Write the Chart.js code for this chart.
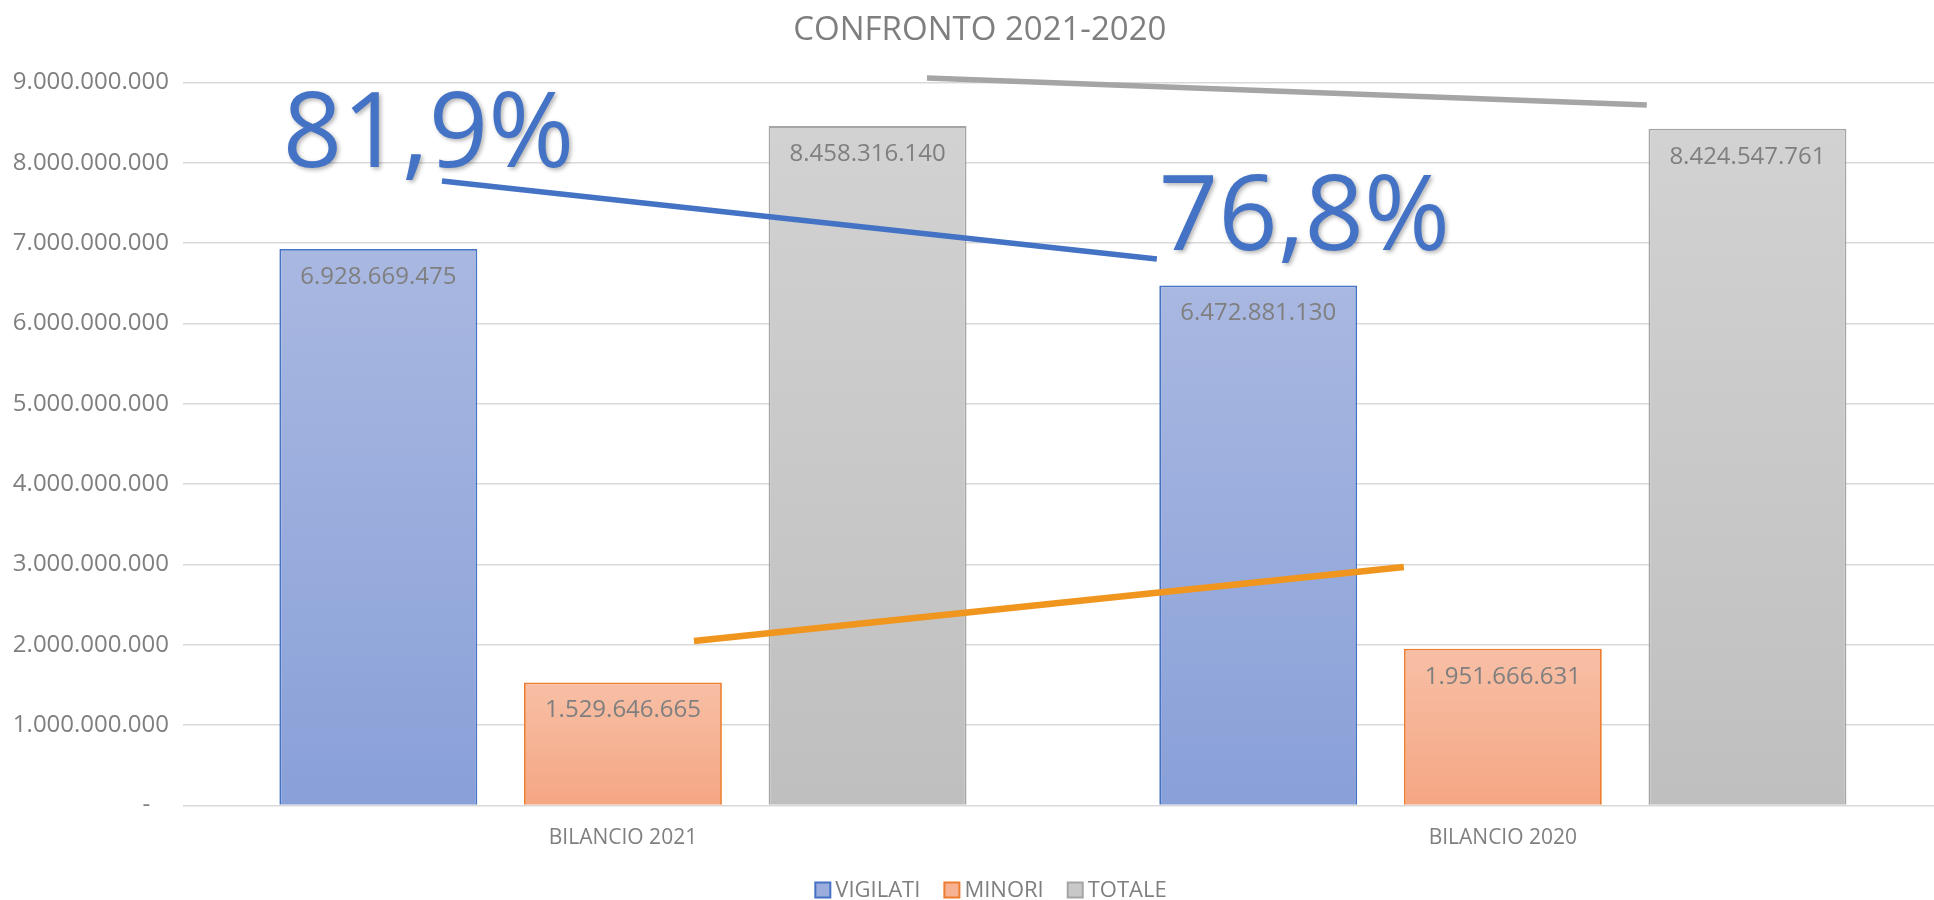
<!DOCTYPE html>
<html>
<head>
<meta charset="utf-8">
<script src="https://cdn.jsdelivr.net/npm/chart.js@4/dist/chart.umd.min.js"></script>
<style>
  html, body { margin: 0; padding: 0; background: #fff; }
  #wrap { width: 1934px; height: 900px; }
</style>
</head>
<body>
<div id="wrap"><canvas id="chart"></canvas></div>
<script>
const Categories = ['BILANCIO 2021', 'BILANCIO 2020'];
const SeriesNames = ['VIGILATI', 'MINORI', 'TOTALE'];
const Vigilati = [6928669475, 6472881130];
const Minori = [1529646665, 1951666631];
const Totale = [8458316140, 8424547761];
const Percentuali = ['81,9%', '76,8%'];
const YTicks = [0, 1e9, 2e9, 3e9, 4e9, 5e9, 6e9, 7e9, 8e9, 9e9];

// the hand drawn trend strokes, in chart units (x = category index)
const TrendVigilati = [{x: -0.2057, y: 7.775e9}, {x: 0.6068, y: 6.804e9}];
const TrendTotale = [{x: 0.3455, y: 9.058e9}, {x: 1.1636, y: 8.72e9}];
const TrendMinori = [{x: 0.0807, y: 2.047e9}, {x: 0.8875, y: 2.969e9}];

const GRAY_TEXT = '#7f7f7f';
const FONT = "'Open Sans', sans-serif";

function fmt(v) {
    if (v === 0) return '-   ';
    return String(Math.round(v)).replace(/\B(?=(\d{3})+(?!\d))/g, '.');
}

// vertical gradient for each single bar, from its top to the zero line
function barFill(top, bottom) {
    return function(ctx) {
        const chart = ctx.chart;
        if (ctx.type !== 'data' || !chart.chartArea || !chart.scales.y) return bottom;
        const y = chart.scales.y;
        const y1 = y.getPixelForValue(ctx.parsed.y);
        const y0 = y.getPixelForValue(0);
        if (!isFinite(y1) || !isFinite(y0) || y0 === y1) return bottom;
        const g = chart.ctx.createLinearGradient(0, y1, 0, y0);
        g.addColorStop(0, top);
        g.addColorStop(1, bottom);
        return g;
    };
}

const toPoints = arr => arr.map((v, i) => ({x: i, y: v}));

const barLabels = {
    id: 'barLabels',
    afterDatasetsDraw(chart) {
        const {ctx} = chart;
        ctx.save();
        ctx.font = '24px ' + FONT;
        ctx.fillStyle = GRAY_TEXT;
        ctx.textAlign = 'center';
        ctx.textBaseline = 'middle';
        chart.data.datasets.forEach((ds, di) => {
            if (ds.type === 'line') return;
            chart.getDatasetMeta(di).data.forEach((bar, i) => {
                ctx.fillText(fmt(ds.data[i].y), bar.x, bar.y + 28);
            });
        });

        // big percentage labels (share of VIGILATI on TOTALE)
        const anchors = [{x: -0.221, y: 7.955e9}, {x: 0.7744, y: 6.92e9}];
        ctx.font = '104px ' + FONT;
        ctx.fillStyle = '#4472c4';
        ctx.textBaseline = 'alphabetic';
        ctx.shadowColor = 'rgba(0,0,0,0.3)';
        ctx.shadowBlur = 4;
        ctx.shadowOffsetX = 2;
        ctx.shadowOffsetY = 2;
        Percentuali.forEach((t, i) => {
            const px = chart.scales.x.getPixelForValue(anchors[i].x);
            const py = chart.scales.y.getPixelForValue(anchors[i].y);
            ctx.fillText(t, px, py);
        });
        ctx.restore();
    }
};

const LegendFill = ['#9aaddd', '#f6b293', '#c8c8c8'];
const LegendStroke = ['#4472c4', '#ed7d31', '#a5a5a5'];

// excel style legend: small square, text right next to it
const bottomLegend = {
    id: 'bottomLegend',
    afterDraw(chart) {
        const {ctx} = chart;
        const box = 15, gap = 5, spacing = 24;
        ctx.save();
        ctx.font = '22px ' + FONT;
        ctx.textBaseline = 'middle';
        ctx.textAlign = 'left';
        const widths = SeriesNames.map(n => box + gap + ctx.measureText(n).width);
        const total = widths.reduce((a, b) => a + b, 0) + spacing * (widths.length - 1);
        let x = chart.width / 2 + 24 - total / 2;
        const y = chart.height - 10;
        SeriesNames.forEach((n, i) => {
            ctx.fillStyle = LegendFill[i];
            ctx.fillRect(x, y - box / 2, box, box);
            ctx.strokeStyle = LegendStroke[i];
            ctx.lineWidth = 2;
            ctx.strokeRect(x, y - box / 2, box, box);
            ctx.fillStyle = GRAY_TEXT;
            ctx.fillText(n, x + box + gap, y + 1);
            x += widths[i] + spacing;
        });
        ctx.restore();
    }
};

new Chart(document.getElementById('chart'), {
    data: {
        datasets: [
            {
                type: 'bar', label: SeriesNames[0], data: toPoints(Vigilati), order: 1,
                backgroundColor: barFill('#a9b8e1', '#89a0d8'), borderColor: '#4472c4', borderWidth: 1.8
            },
            {
                type: 'bar', label: SeriesNames[1], data: toPoints(Minori), order: 1,
                backgroundColor: barFill('#f7bfa6', '#f5a683'), borderColor: '#ed7d31', borderWidth: 1.8
            },
            {
                type: 'bar', label: SeriesNames[2], data: toPoints(Totale), order: 1,
                backgroundColor: barFill('#d2d2d2', '#bfbfbf'), borderColor: '#a5a5a5', borderWidth: 1.8
            },
            {
                type: 'line', label: 'trend vigilati', data: TrendVigilati, order: 0,
                borderColor: '#4472c4', borderWidth: 5.5, pointRadius: 0, clip: false
            },
            {
                type: 'line', label: 'trend totale', data: TrendTotale, order: 0,
                borderColor: '#a5a5a5', borderWidth: 5.5, pointRadius: 0, clip: false
            },
            {
                type: 'line', label: 'trend minori', data: TrendMinori, order: 0,
                borderColor: '#f0951e', borderWidth: 6.5, pointRadius: 0, clip: false
            }
        ]
    },
    options: {
        responsive: true,
        maintainAspectRatio: false,
        animation: false,
        layout: { padding: { left: 0, right: 0, top: 0, bottom: 47.6 } },
        datasets: {
            bar: { categoryPercentage: 0.834, barPercentage: 0.809, grouped: true }
        },
        scales: {
            x: {
                type: 'linear',
                offset: false,
                min: -0.5,
                max: 1.49,
                grid: { display: false, drawTicks: false, offset: false },
                border: { display: false },
                afterBuildTicks: s => { s.ticks = [{value: 0}, {value: 1}]; },
                afterFit: s => { s.height = 47; },
                ticks: {
                    padding: 20.5,
                    color: GRAY_TEXT,
                    font: { family: FONT, size: 21 },
                    callback: v => Categories[v]
                }
            },
            y: {
                min: 0,
                max: 9e9,
                afterBuildTicks: s => { s.ticks = YTicks.map(v => ({value: v})); },
                afterFit: s => { s.width = 183; },
                grid: { color: '#d9d9d9', lineWidth: 1.5, drawTicks: false },
                border: { display: false },
                ticks: {
                    padding: 14,
                    color: GRAY_TEXT,
                    font: { family: FONT, size: 24 },
                    callback: v => fmt(v)
                }
            }
        },
        plugins: {
            title: {
                display: true,
                text: '   CONFRONTO 2021-2020',
                color: GRAY_TEXT,
                font: { family: FONT, size: 33, weight: 'normal' },
                padding: { top: 10.5, bottom: 32.5 }
            },
            legend: { display: false },
            tooltip: { enabled: false }
        }
    },
    plugins: [barLabels, bottomLegend]
});
</script>
</body>
</html>
